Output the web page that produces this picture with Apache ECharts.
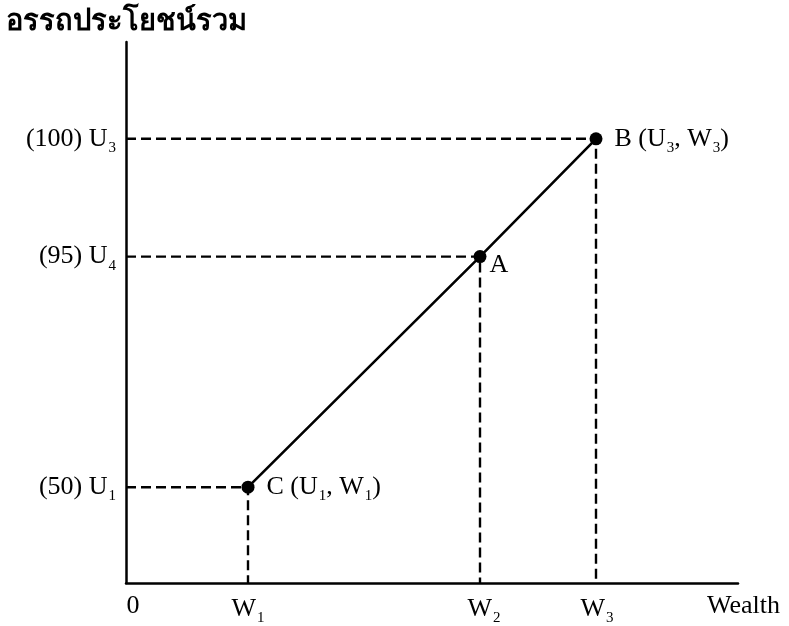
<!DOCTYPE html>
<html>
<head>
<meta charset="utf-8">
<script src="https://cdn.jsdelivr.net/npm/echarts@6/dist/echarts.min.js"></script>
<style>
  html, body { margin: 0; padding: 0; background: #fff; }
  #chart { width: 789px; height: 626px; }
</style>
</head>
<body>
<div id="chart"></div>
<script>
// จุด C, A, B (ตำแหน่งบนแกนแบบแผนภาพ ไม่ใช่สเกลจริง)
const pointNames = ['C', 'A', 'B']
const wealthPos = [122, 354, 470]
const utilityPos = [96, 327, 445]
const pointLabels = ['C (U{s|1}, W{s|1})', 'A', 'B (U{s|3}, W{s|3})']

// ป้ายแกน
const yTickPos = [96, 327, 445]
const yTickLabels = ['(50) U{s|1}', '(95) U{s|4}', '(100) U{s|3}']
const xTickPos = [7, 122, 358, 471]
const xTickLabels = ['0', 'W{s|1}', 'W{s|2}', 'W{s|3}']

const serif = 'Liberation Serif'
const sub = {
  fontSize: 15,
  fontFamily: serif,
  color: '#000',
  padding: [18, 0, 0, 1]
}

let chart = echarts.init(document.getElementById('chart'))

// เส้นประจากแกนไปยังแต่ละจุด
let guideSeries = wealthPos.map((x, i) => ({
  type: 'line',
  silent: true,
  symbol: 'none',
  lineStyle: { color: '#000', width: 2.4, type: [10, 5] },
  data: [[0, utilityPos[i]], [x, utilityPos[i]], [x, 0]],
  z: 1
}))

chart.setOption({
  animation: false,
  grid: { left: 126, right: 51, top: 42, bottom: 42 },
  xAxis: {
    type: 'value',
    min: 0,
    max: 612,
    splitLine: { show: false },
    axisTick: { show: false },
    axisLine: { show: true, onZero: false, lineStyle: { color: '#000', width: 2.5 } },
    axisLabel: {
      customValues: xTickPos,
      margin: 10,
      color: '#000',
      fontSize: 26,
      fontFamily: serif,
      formatter: v => xTickLabels[xTickPos.indexOf(v)] || '',
      rich: { s: sub }
    },
    name: 'Wealth',
    nameLocation: 'end',
    nameGap: -31,
    nameTextStyle: {
      color: '#000',
      fontSize: 26,
      fontFamily: serif,
      align: 'left',
      verticalAlign: 'top',
      padding: [10, 0, 0, 0]
    }
  },
  yAxis: {
    type: 'value',
    min: 0,
    max: 542,
    splitLine: { show: false },
    axisTick: { show: false },
    axisLine: { show: true, onZero: false, lineStyle: { color: '#000', width: 2.5 } },
    axisLabel: {
      customValues: yTickPos,
      margin: 10,
      color: '#000',
      fontSize: 26,
      fontFamily: serif,
      formatter: v => yTickLabels[yTickPos.indexOf(v)] || '',
      rich: { s: sub }
    },
    name: 'อรรถประโยชน์รวม',
    nameLocation: 'end',
    nameGap: 6,
    nameTextStyle: {
      color: '#000',
      fontSize: 29,
      fontWeight: 'bold',
      align: 'center',
      verticalAlign: 'bottom'
    }
  },
  series: guideSeries.concat([{
    type: 'line',
    symbol: 'circle',
    symbolSize: 13,
    itemStyle: { color: '#000' },
    lineStyle: { color: '#000', width: 2.6 },
    data: pointNames.map((n, i) => ({
      name: n,
      value: [wealthPos[i], utilityPos[i]],
      label: {
        show: true,
        position: i === 1 ? [16, 2] : 'right',
        distance: 12,
        formatter: pointLabels[i],
        color: '#000',
        fontSize: 26,
        fontFamily: serif,
        rich: { s: sub }
      }
    })),
    z: 3
  }])
})
</script>
</body>
</html>
